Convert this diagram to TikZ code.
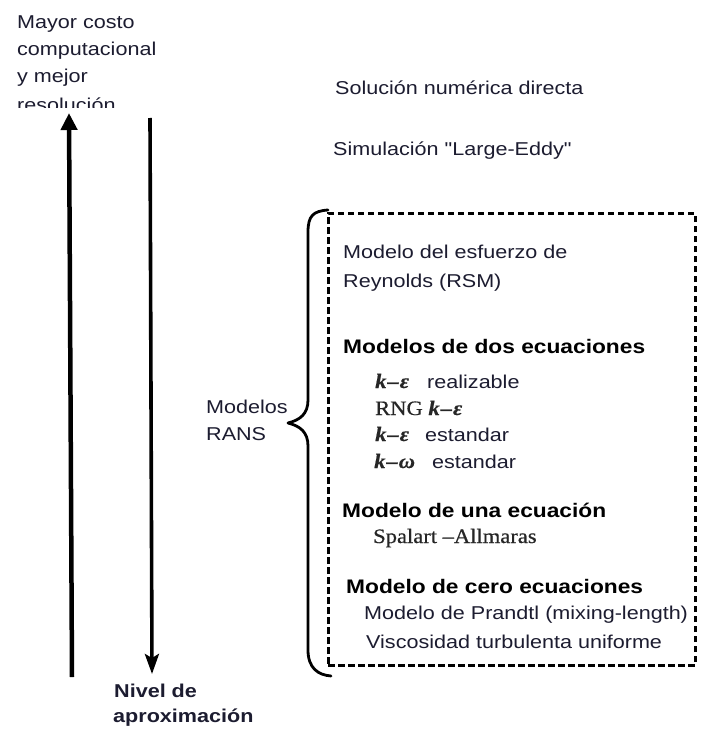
\documentclass[tikz,border=0pt]{standalone}
\usepackage{fontspec}
\setmainfont{Liberation Sans}[FakeStretch=1.16]
\newfontfamily\serifk{Liberation Serif}[FakeStretch=1.1,FakeBold=0.6]
\usetikzlibrary{arrows.meta}
\definecolor{textc}{RGB}{28,28,48}
\newcommand{\sq}{{\addfontfeatures{Ligatures=TeXOff}"}}
\tikzset{
  lbl/.style={anchor=base west, inner sep=0pt, text=textc, font=\fontsize{18.6}{22}\selectfont},
  hdr/.style={anchor=base west, inner sep=0pt, text=black, font=\fontsize{19.6}{23}\selectfont\bfseries},
  srf/.style={anchor=base west, inner sep=0pt, text=black!85, font=\fontsize{20.5}{24}\selectfont\serifk},
  mth/.style={anchor=base west, inner sep=0pt, text=black!85, font=\fontsize{20.5}{24}\selectfont\serifk\bfseries\itshape},
  bigarrow/.style={line width=4.5pt, -{Triangle[width=16pt,length=17pt]}},
  downarrow/.style={line width=3.6pt, -{Stealth[width=14pt,length=20pt,inset=4pt]}},
  dashbox/.style={draw=black, line width=3pt, dash pattern=on 6.5pt off 3.5pt},
  brace/.style={draw=black, line width=2.8pt, line cap=round, line join=round}
}
\begin{document}
\begin{tikzpicture}[x=1pt,y=-1pt]
\useasboundingbox[fill=white] (0,0) rectangle (703,741);

% top-left label
\node[lbl] (t1) at (17,29) {Mayor costo};
\node[lbl] (t2) at (17,56) {computacional};
\node[lbl] (t3) at (17,83) {y mejor};
\begin{scope}
\clip (0,0) rectangle (300,108);
\node[lbl] (t4) at (17,112) {resolución};
\end{scope}

% arrows
\coordinate (upS) at (72,677);
\coordinate (upE) at (69,113);
\draw[bigarrow] (upS) -- (upE);
\coordinate (dnS) at (150,118);
\coordinate (dnE) at (152,674);
\draw[downarrow] (dnS) -- (dnE);

% bottom label
\node[hdr, font=\fontsize{18.6}{22}\selectfont\bfseries, text=textc] (n1) at (114,697) {Nivel de};
\node[hdr, font=\fontsize{18.6}{22}\selectfont\bfseries, text=textc] (n2) at (113,722) {aproximación};

% upper methods
\node[lbl] (dns) at (335,95) {Solución numérica directa};
\node[lbl] (les) at (333,155) {Simulación \sq Large-Eddy\sq};

% dashed box
\node[dashbox, minimum width=367pt, minimum height=452pt, inner sep=0pt] (box) at (511.5,439) {};

% brace
\coordinate (bt) at (328,210);
\coordinate (bb) at (331,676);
\coordinate (tip) at (288,423);
\draw[brace] (bt) .. controls (313,211) and (308,216) .. (308,232)
  -- (308,400) .. controls (308,414) and (300,420) .. (tip)
  .. controls (300,426) and (308,432) .. (308,446)
  -- (308,650) .. controls (308,668) and (318,675) .. (bb);

% RANS label
\node[lbl] (rans1) at (206,413) {Modelos};
\node[lbl] (rans2) at (206,440) {RANS};

% box contents
\node[lbl] (rsm1) at (343,258) {Modelo del esfuerzo de};
\node[lbl] (rsm2) at (343,287) {Reynolds (RSM)};

\node[hdr] (h2) at (343,353) {Modelos de dos ecuaciones};
\node[mth] (m1) at (375,388) {k\kern1pt–\kern1pt ε};
\node[lbl] (m1t) at (427,388) {realizable};
\node[srf] (m2) at (375,415) {RNG \bfseries\itshape k\kern1pt–\kern1pt ε};
\node[mth] (m3) at (375,441) {k\kern1pt–\kern1pt ε};
\node[lbl] (m3t) at (425,441) {estandar};
\node[mth] (m4) at (374,468) {k\kern1pt–\kern1pt ω};
\node[lbl] (m4t) at (432,468) {estandar};

\node[hdr] (h1) at (342,517) {Modelo de una ecuación};
\node[srf] (sa) at (373,543) {Spalart –Allmaras};

\node[hdr] (h0) at (346,593) {Modelo de cero ecuaciones};
\node[lbl] (p1) at (364,619) {Modelo de Prandtl (mixing-length)};
\node[lbl] (p2) at (366,648) {Viscosidad turbulenta uniforme};
\end{tikzpicture}
\end{document}
